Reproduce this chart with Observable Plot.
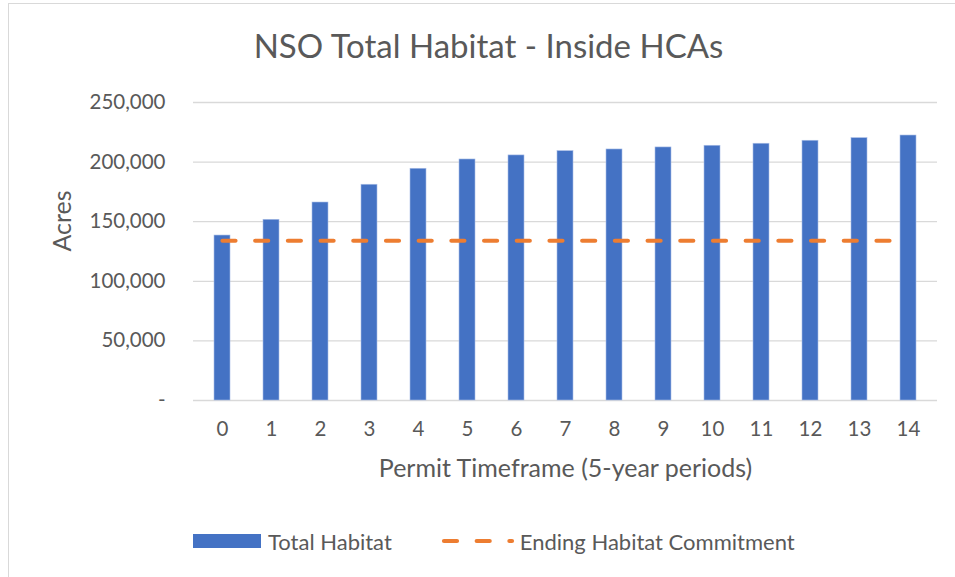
<!DOCTYPE html>
<html>
<head>
<meta charset="utf-8">
<script src="https://cdn.jsdelivr.net/npm/d3@7"></script>
<script src="https://cdn.jsdelivr.net/npm/@observablehq/plot@0.6"></script>
<style>
  html, body { margin: 0; padding: 0; background: #fff; }
  #wrap { position: relative; width: 955px; height: 577px; font-family: Lato, "Open Sans", sans-serif; color: #595959; }
  #frame { position: absolute; left: 8px; top: 3px; right: 0; bottom: 0; border-top: 1.5px solid #d9d9d9; border-left: 1.5px solid #d9d9d9; pointer-events: none; }
  #legend { position: absolute; top: 527px; left: 193px; height: 28px; display: flex; align-items: center; font-size: 22px; white-space: nowrap; }
  #legend .item { display: flex; align-items: center; }
  #legend svg { display: block; }
</style>
</head>
<body>
<div id="wrap">
  <div id="chart"></div>
  <div id="frame"></div>
  <div id="legend"></div>
</div>
<script>
const periods = [0, 1, 2, 3, 4, 5, 6, 7, 8, 9, 10, 11, 12, 13, 14];
const totalHabitat = [138400, 151600, 166100, 181000, 194400, 202200, 205600, 209200, 210600, 212300, 213700, 215400, 217900, 220100, 222300];
const endingCommitment = [134000, 134000, 134000, 134000, 134000, 134000, 134000, 134000, 134000, 134000, 134000, 134000, 134000, 134000, 134000];
const yTicks = [0, 50000, 100000, 150000, 200000, 250000];
const titleText = "NSO Total Habitat - Inside HCAs";
const yLabel = "Acres";
const xLabel = "Permit Timeframe (5-year periods)";
const seriesNames = ["Total Habitat", "Ending Habitat Commitment"];
const colors = ["#4472C4", "#ED7D31"];

const rows = periods.map((p, i) => ({period: p, total: totalHabitat[i], commitment: endingCommitment[i]}));
const fmt = d => d === 0 ? "-" : d3.format(",")(d);

const chart = Plot.plot({
  width: 955,
  height: 577,
  marginLeft: 193,
  marginRight: 18,
  marginTop: 102,
  marginBottom: 177,
  style: {fontFamily: "Lato, 'Open Sans', sans-serif", color: "#595959", background: "#fff", overflow: "visible"},
  x: {type: "band", domain: periods, paddingInner: 0.68, paddingOuter: 0.34},
  y: {domain: [0, 250000]},
  marks: [
    Plot.ruleY(yTicks, {stroke: "#d9d9d9", strokeWidth: 1.3}),
    Plot.barY(rows, {x: "period", y: "total", fill: colors[0], stroke: "#a9bde6", strokeWidth: 0.6}),
    Plot.line(rows, {x: "period", y: "commitment", stroke: colors[1], strokeWidth: 4.2, strokeDasharray: "13,19.7", strokeLinecap: "round"}),
    Plot.axisY({ticks: yTicks, tickFormat: fmt, tickSize: 0, tickPadding: 28, fontSize: 20.5, label: null}),
    Plot.axisX({tickSize: 0, tickPadding: 21, fontSize: 20.5, label: null}),
    Plot.text([yLabel], {frameAnchor: "left", dx: -131, rotate: -90, fontSize: 25, fill: "#595959"}),
    Plot.text([xLabel], {frameAnchor: "bottom", lineAnchor: "middle", dy: 68, fontSize: 25, fill: "#595959"}),
    Plot.text([titleText], {frameAnchor: "top", lineAnchor: "middle", dx: -77, dy: -55, fontSize: 33, fill: "#595959"})
  ]
});
document.getElementById("chart").appendChild(chart);

const legend = document.getElementById("legend");
legend.innerHTML = `
  <div class="item">
    <svg width="68" height="14"><rect width="68" height="14" fill="${colors[0]}"></rect></svg>
    <span style="margin-left:7px">${seriesNames[0]}</span>
  </div>
  <div class="item" style="margin-left:48px">
    <svg width="76" height="14"><line x1="4" x2="72" y1="7" y2="7" stroke="${colors[1]}" stroke-width="4.2" stroke-dasharray="13,19.7" stroke-linecap="round"></line></svg>
    <span style="margin-left:4px">${seriesNames[1]}</span>
  </div>`;
</script>
</body>
</html>
